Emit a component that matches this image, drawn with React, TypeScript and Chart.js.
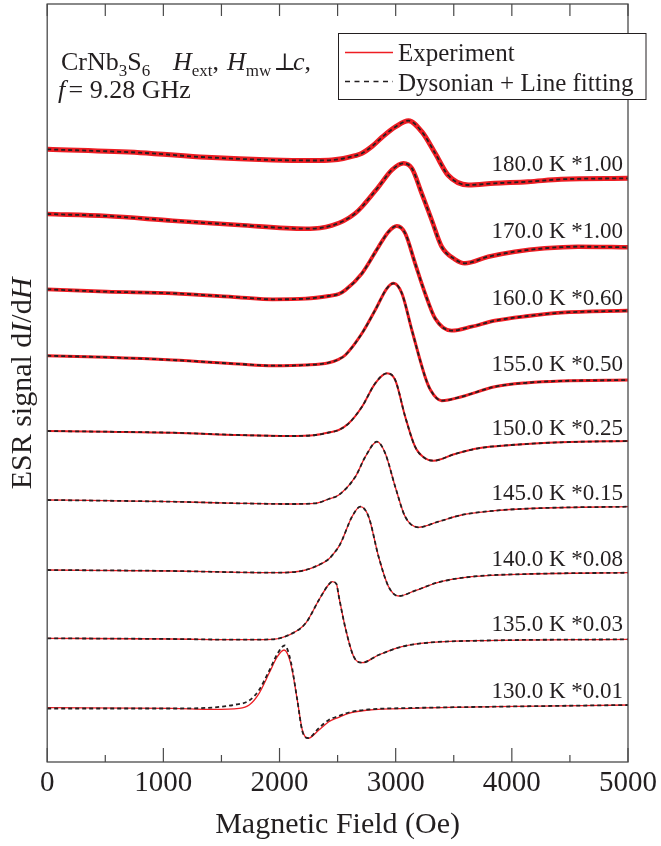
import React, { useEffect, useRef } from 'react';
import { Chart, registerables } from 'chart.js';

Chart.register(...registerables);

// ---------- data ----------
const fieldTicks = [0, 1000, 2000, 3000, 4000, 5000];
const minorFieldTicks = [500, 1500, 2500, 3500, 4500];

const traceLabels = [
  '180.0 K *1.00',
  '170.0 K *1.00',
  '160.0 K *0.60',
  '155.0 K *0.50',
  '150.0 K *0.25',
  '145.0 K *0.15',
  '140.0 K *0.08',
  '135.0 K *0.03',
  '130.0 K *0.01',
];
// vertical level (stacked signal units) of each trace label
const labelLevels = [597, 530, 463, 397, 333, 268, 202, 137, 70];
// apparent thickness of the noisy experimental band
const noiseWidths = [5, 4.6, 3.8, 3, 2, 1.3, 1.3, 1.3, 1.3];

// field (Oe) / stacked ESR signal (arb. units), experiment
const h180 = [0, 800, 1370, 1940, 2300, 2450, 2550, 2650, 2710, 2800, 2880, 3000, 3110, 3225, 3340, 3450, 3625, 3850, 4140, 4425, 5000];
const s180 = [612.7, 609.3, 604.7, 602, 601.5, 602, 603.5, 606.3, 608.7, 616, 624.5, 635.3, 641.3, 630.3, 608.7, 587, 577, 578.7, 580.3, 582.7, 583.7];

const h170 = [0, 510, 1080, 1650, 2225, 2350, 2450, 2550, 2650, 2710, 2853, 2967, 3067, 3139, 3224, 3310, 3396, 3510, 3596, 3796, 4025, 4282, 4568, 5000];
const s170 = [548, 546, 541.3, 537, 533.3, 534, 536.5, 541, 548.5, 555.3, 575.3, 592, 598.7, 593.7, 568.7, 542, 515.3, 502.7, 498.7, 505.3, 510.3, 513.7, 515.3, 514.7];

const h160 = [0, 510, 1080, 1650, 1940, 2226, 2424, 2510, 2567, 2710, 2853, 2939, 3010, 3082, 3167, 3253, 3339, 3482, 3653, 3853, 4139, 4425, 5000];
const s160 = [472.7, 470.3, 468.7, 464.7, 462.7, 463.3, 466, 468, 472, 488.7, 515.3, 530.3, 536, 528.7, 498.7, 468.7, 443.7, 431.3, 435.3, 441.3, 446, 449.3, 451.3];

const h155 = [0, 510, 1080, 1650, 1940, 2226, 2424, 2510, 2567, 2710, 2824, 2925, 2982, 3053, 3139, 3253, 3300, 3396, 3567, 3853, 4139, 4425, 5000];
const s155 = [406.3, 404.7, 402, 398, 396.3, 397, 399.3, 402.7, 407, 428.7, 452, 473.7, 478.7, 468.7, 432, 385.3, 372, 361.3, 365.3, 375.3, 379.3, 381, 382];

const h150 = [0, 510, 1080, 1650, 2080, 2310, 2424, 2510, 2596, 2710, 2824, 2925, 2996, 3082, 3167, 3253, 3325, 3510, 3710, 3996, 4425, 5000];
const s150 = [331, 330.3, 329.3, 327, 326, 327, 329.5, 332, 338.7, 355.3, 378.7, 388.7, 382, 345.3, 315.3, 303.7, 301.3, 308, 313.7, 317, 319.7, 321];

const h145 = [0, 510, 1080, 1650, 2080, 2310, 2424, 2510, 2653, 2739, 2839, 2910, 2996, 3082, 3196, 3367, 3567, 3853, 4282, 5000];
const s145 = [262, 261.3, 260.3, 258.7, 258, 258.7, 263, 267, 285.3, 305.3, 320.3, 308.7, 275.3, 245.3, 234.7, 240.3, 247, 251.3, 254, 255.3];

const h140 = [0, 1080, 1650, 1995, 2224, 2367, 2424, 2470, 2510, 2539, 2624, 2696, 2767, 2853, 2939, 3025, 3167, 3367, 3653, 4139, 5000];
const s140 = [192, 191, 189.7, 189.3, 192, 198.7, 203, 209, 215.3, 222, 245.3, 255.3, 245.3, 205.3, 175.3, 166, 171.3, 179.7, 185.3, 188, 189.3];

const h135 = [0, 1080, 1650, 1938, 2081, 2224, 2339, 2420, 2453, 2490, 2510, 2567, 2639, 2710, 2853, 3053, 3282, 3710, 5000];
const s135 = [123.7, 123, 122.3, 122.7, 127, 138.7, 162, 177, 180.3, 178, 166, 134, 105.3, 99.3, 107, 115.3, 119.3, 121.3, 122.7];

const h130 = [0, 1080, 1424, 1653, 1739, 1824, 1910, 1981, 2039, 2096, 2153, 2196, 2247, 2339, 2424, 2510, 2596, 2767, 3139, 3853, 5000];
const s130 = [54.3, 53.7, 52.7, 53.7, 57, 68.7, 88.7, 105.3, 112, 98.7, 62, 32, 23.7, 32, 40.3, 44.7, 48.7, 52, 53.7, 55.3, 57];

// 130 K fit deviates visibly from the experiment
const h130fit = [0, 1080, 1424, 1600, 1739, 1824, 1910, 1981, 2045, 2096, 2153, 2196, 2247, 2339, 2424, 2510, 2596, 2767, 3139, 3853, 5000];
const s130fit = [53.5, 53.5, 54.5, 57, 61.5, 72, 91, 108, 116.5, 101, 62, 31, 24, 34, 42, 46, 49.5, 52.5, 54, 55.3, 57];

const expFields = [h180, h170, h160, h155, h150, h145, h140, h135, h130];
const expSignals = [s180, s170, s160, s155, s150, s145, s140, s135, s130];
const fitFields = [h180, h170, h160, h155, h150, h145, h140, h135, h130fit];
const fitSignals = [s180, s170, s160, s155, s150, s145, s140, s135, s130fit];

// ---------- styling ----------
const SERIF = '"Liberation Serif", "Times New Roman", serif';
const INK = '#231f20';
const RED = '#ee1d23';
const AXIS = '#4a4a4a';

const toPts = (xs: number[], ys: number[]) => xs.map((x, i) => ({ x, y: ys[i] }));

type Part = { t: string; size: number; italic?: boolean; dy?: number; x?: number; family?: string };

function drawParts(ctx: CanvasRenderingContext2D, parts: Part[], x0: number, y0: number) {
  let x = x0;
  for (const p of parts) {
    if (p.x !== undefined) x = p.x;
    ctx.font = `${p.italic ? 'italic ' : ''}${p.size}px ${p.family || SERIF}`;
    ctx.fillText(p.t, x, y0 + (p.dy || 0));
    x += ctx.measureText(p.t).width;
  }
  return x;
}

function measureParts(ctx: CanvasRenderingContext2D, parts: Part[]) {
  let w = 0;
  for (const p of parts) {
    ctx.font = `${p.italic ? 'italic ' : ''}${p.size}px ${p.family || SERIF}`;
    w += ctx.measureText(p.t).width;
  }
  return w;
}

const decorPlugin = {
  id: 'decor',
  afterDraw(chart: any) {
    const { ctx, chartArea: a, scales } = chart;
    const xs = scales.x;
    const ys = scales.y;
    ctx.save();

    // frame
    ctx.strokeStyle = AXIS;
    ctx.lineWidth = 1.3;
    ctx.setLineDash([]);
    ctx.strokeRect(a.left, a.top, a.right - a.left, a.bottom - a.top);

    // inward ticks
    ctx.lineWidth = 1.2;
    ctx.beginPath();
    for (const v of fieldTicks) {
      const px = xs.getPixelForValue(v);
      ctx.moveTo(px, a.bottom);
      ctx.lineTo(px, a.bottom - 14);
      ctx.moveTo(px, a.top);
      ctx.lineTo(px, a.top + 12);
    }
    for (const v of minorFieldTicks) {
      const px = xs.getPixelForValue(v);
      ctx.moveTo(px, a.bottom);
      ctx.lineTo(px, a.bottom - 7);
      ctx.moveTo(px, a.top);
      ctx.lineTo(px, a.top + 12);
    }
    ctx.stroke();

    // trace labels
    ctx.fillStyle = INK;
    ctx.font = `23px ${SERIF}`;
    ctx.textAlign = 'right';
    ctx.textBaseline = 'middle';
    traceLabels.forEach((t, i) => {
      ctx.fillText(t, 623, ys.getPixelForValue(labelLevels[i]));
    });

    // annotation text
    ctx.textAlign = 'left';
    ctx.textBaseline = 'alphabetic';
    drawParts(ctx, [
      { t: 'CrNb', size: 26 },
      { t: '3', size: 17, dy: 6 },
      { t: 'S', size: 26 },
      { t: '6', size: 17, dy: 6 },
      { t: 'H', size: 26, italic: true, x: 173 },
      { t: 'ext', size: 17, dy: 6 },
      { t: ',', size: 26 },
      { t: 'H', size: 26, italic: true, x: 227 },
      { t: 'mw', size: 17, dy: 6 },
      { t: '\u22A5', size: 24, x: 273.5, family: '"DejaVu Serif", serif' },
      { t: 'c', size: 26, italic: true, x: 293 },
      { t: ',', size: 26 },
    ], 61, 70);
    drawParts(ctx, [
      { t: 'f', size: 26, italic: true },
      { t: '= 9.28 GHz', size: 26, x: 68.5 },
    ], 58, 98.3);

    // legend
    ctx.fillStyle = '#ffffff';
    ctx.fillRect(338.5, 33.5, 307.5, 66);
    ctx.strokeStyle = INK;
    ctx.lineWidth = 1;
    ctx.strokeRect(338.5, 33.5, 307.5, 66);
    ctx.strokeStyle = RED;
    ctx.lineWidth = 1.3;
    ctx.beginPath();
    ctx.moveTo(345, 52.5);
    ctx.lineTo(393, 52.5);
    ctx.stroke();
    ctx.strokeStyle = INK;
    ctx.lineWidth = 1.6;
    ctx.setLineDash([5, 4.5]);
    ctx.beginPath();
    ctx.moveTo(345, 81.5);
    ctx.lineTo(393, 81.5);
    ctx.stroke();
    ctx.setLineDash([]);
    ctx.fillStyle = INK;
    ctx.font = `25px ${SERIF}`;
    ctx.fillText('Experiment', 398, 60.5);
    ctx.fillText('Dysonian + Line fitting', 398, 90.7);

    // y title
    const yParts: Part[] = [
      { t: 'ESR signal d', size: 30 },
      { t: 'I', size: 30, italic: true },
      { t: '/d', size: 30 },
      { t: 'H', size: 30, italic: true },
    ];
    const w = measureParts(ctx, yParts);
    ctx.translate(31, 383.5);
    ctx.rotate(-Math.PI / 2);
    drawParts(ctx, yParts, -w / 2, 0);

    ctx.restore();
  },
};

export default function App() {
  const ref = useRef<HTMLCanvasElement>(null);

  useEffect(() => {
    if (!ref.current) return;
    const datasets: any[] = [];
    expFields.forEach((hs, i) => {
      datasets.push({
        label: 'Dysonian + Line fitting',
        data: toPts(fitFields[i], fitSignals[i]),
        borderColor: INK,
        borderWidth: 1.8,
        borderDash: [4, 3],
        pointRadius: 0,
        cubicInterpolationMode: 'monotone',
        fill: false,
        order: 0,
      });
      datasets.push({
        label: 'Experiment',
        data: toPts(hs, expSignals[i]),
        borderColor: RED,
        borderWidth: noiseWidths[i],
        pointRadius: 0,
        cubicInterpolationMode: 'monotone',
        fill: false,
        order: 1,
      });
    });

    const chart = new Chart(ref.current, {
      type: 'line',
      data: { datasets },
      options: {
        responsive: false,
        animation: false,
        parsing: false as any,
        layout: { padding: { left: 47.2, right: 31, top: 4, bottom: 0 } },
        plugins: { legend: { display: false }, tooltip: { enabled: false } },
        scales: {
          x: {
            type: 'linear',
            position: 'bottom',
            min: 0,
            max: 5000,
            afterBuildTicks: (axis: any) => {
              axis.ticks = fieldTicks.map((v) => ({ value: v }));
            },
            afterFit: (axis: any) => {
              axis.height = 84;
            },
            grid: { display: false, drawTicks: false },
            border: { display: false },
            ticks: {
              autoSkip: false,
              maxRotation: 0,
              padding: 4,
              color: INK,
              font: { family: SERIF, size: 29 },
              callback: (v: any) => String(v),
            },
            title: {
              display: true,
              text: 'Magnetic Field (Oe)',
              color: INK,
              font: { family: SERIF, size: 30 },
              padding: { top: 0, bottom: 3 },
            },
          },
          y: {
            type: 'linear',
            display: false,
            min: 0,
            max: 758,
          },
        },
      },
      plugins: [decorPlugin],
    } as any);
    return () => chart.destroy();
  }, []);

  return (
    <div style={{ position: 'absolute', left: 0, top: 0, width: 661, height: 846, background: '#ffffff' }}>
      <canvas ref={ref} width={661} height={846} style={{ display: 'block' }} />
    </div>
  );
}
